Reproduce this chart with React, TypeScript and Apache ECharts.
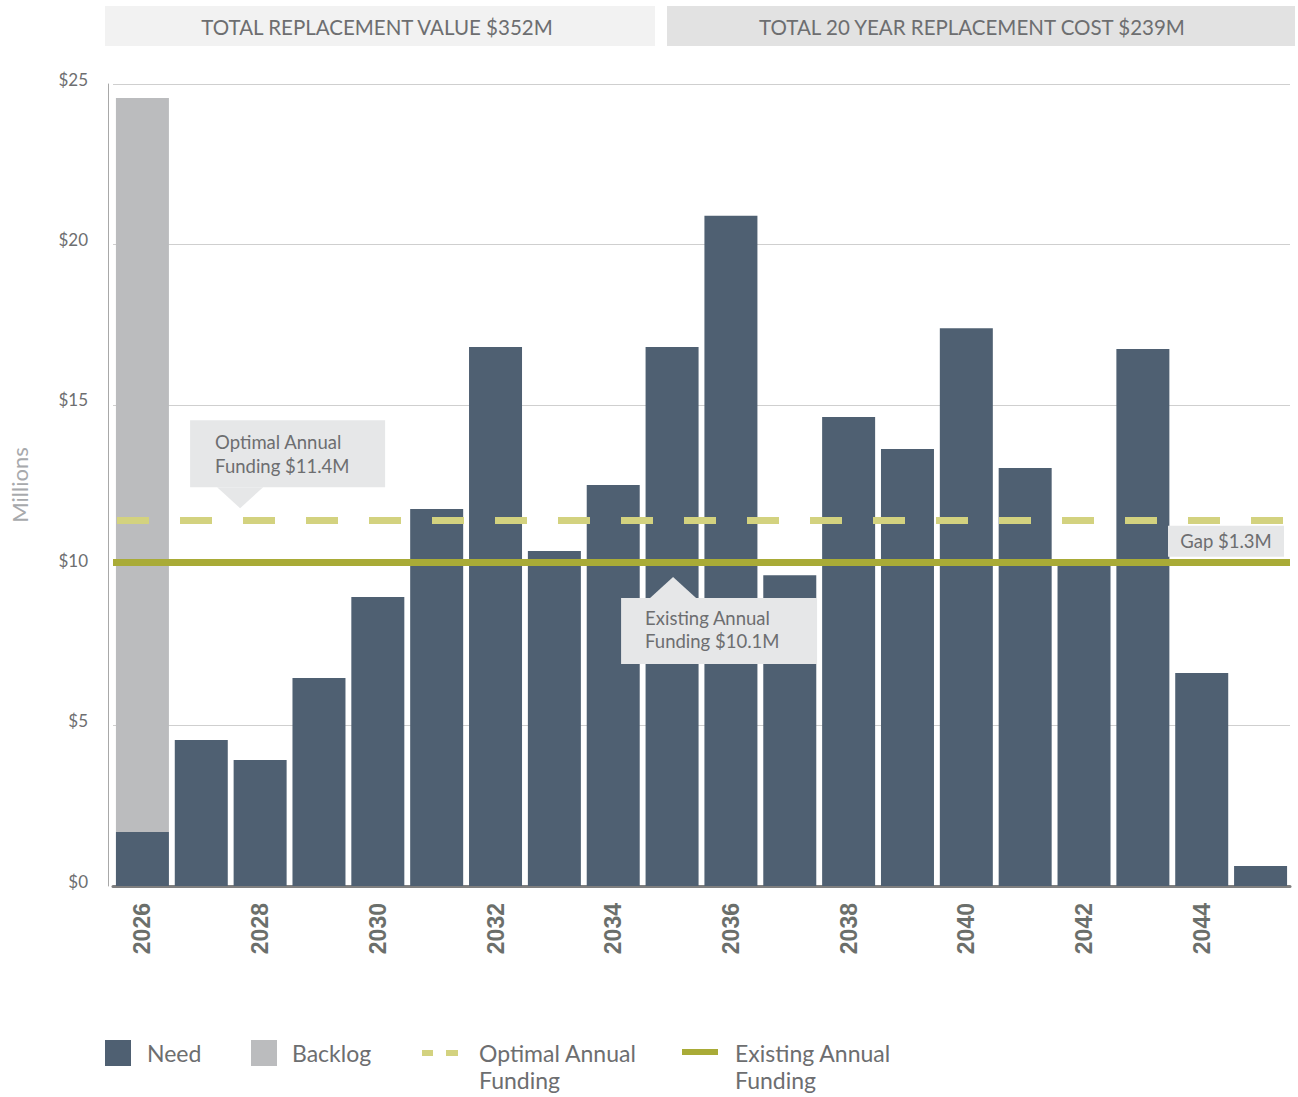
import React, { useEffect, useRef } from "react";
import * as echarts from "echarts";

const years = ["2026","2027","2028","2029","2030","2031","2032","2033","2034","2035","2036","2037","2038","2039","2040","2041","2042","2043","2044","2045"];
const need = [1.68, 4.55, 3.93, 6.48, 9.01, 11.75, 16.8, 10.44, 12.5, 16.8, 20.89, 9.69, 14.62, 13.62, 17.39, 13.03, 10.15, 16.74, 6.64, 0.62];
const backlog = [22.88, 0, 0, 0, 0, 0, 0, 0, 0, 0, 0, 0, 0, 0, 0, 0, 0, 0, 0, 0];
const optimalFunding = 11.4;
const existingFunding = 10.1;
const yTicks = [0, 5, 10, 15, 20, 25];
const headerLeft = "TOTAL REPLACEMENT VALUE $352M";
const headerRight = "TOTAL 20 YEAR REPLACEMENT COST $239M";

const NEED_COLOR = "#4f6072";
const BACKLOG_COLOR = "#bbbcbe";
const OPT_COLOR = "#d3d27f";
const EXIST_COLOR = "#a9ab37";
const TEXT = "#6d6e70";
const BOX = "#e6e7e8";
const FONT = "Lato, 'Open Sans', sans-serif";

export default function App() {
  const ref = useRef<HTMLDivElement>(null);
  useEffect(() => {
    document.body.style.margin = "0";
    const chart = echarts.init(ref.current!, null, { renderer: "svg" });
    chart.setOption({
      animation: false,
      grid: { left: 112, right: 8, top: 84, bottom: 211 },
      xAxis: {
        type: "category",
        data: years,
        axisTick: { show: false },
        axisLine: { lineStyle: { color: "#7f7f7f", width: 3 } },
        axisLabel: {
          interval: 1,
          rotate: 90,
          margin: 17,
          color: "#6b6f6b",
          fontFamily: "'Liberation Sans', Arial, sans-serif",
          fontWeight: "bold",
          fontSize: 23,
        },
      },
      yAxis: {
        type: "value",
        min: yTicks[0],
        max: yTicks[yTicks.length - 1],
        interval: 5,
        offset: 5,
        name: "Millions",
        nameLocation: "middle",
        nameRotate: 90,
        nameGap: 78,
        nameTextStyle: { color: "#a7a9ac", fontSize: 22, fontFamily: FONT },
        axisLine: { show: true, lineStyle: { color: "#a8a8a8", width: 1 } },
        axisTick: { show: false },
        splitLine: { lineStyle: { color: "#cfcfcf", width: 1 } },
        axisLabel: {
          formatter: (v: number) => "$" + v,
          color: TEXT,
          fontSize: 17,
          fontFamily: FONT,
          margin: 20,
          verticalAlign: "bottom",
          lineHeight: 10,
        },
      },
      series: [
        {
          name: "Need",
          type: "bar",
          stack: "total",
          data: need,
          barWidth: 53,
          itemStyle: { color: NEED_COLOR },
          markLine: {
            symbol: "none",
            silent: true,
            label: { show: false },
            data: [
              { yAxis: optimalFunding, lineStyle: { color: OPT_COLOR, width: 7, type: [32, 31], dashOffset: -4 } },
              { yAxis: existingFunding, lineStyle: { color: EXIST_COLOR, width: 7, type: "solid" } },
            ],
          },
          z: 2,
        },
        {
          name: "Backlog",
          type: "bar",
          stack: "total",
          data: backlog,
          barWidth: 53,
          itemStyle: { color: BACKLOG_COLOR },
          z: 2,
        },
      ],
    });

    const px = (i: number, v: number) => chart.convertToPixel({ gridIndex: 0 }, [i, v]) as number[];
    const optY = px(0, optimalFunding)[1];
    const exY = px(0, existingFunding)[1];
    const c1 = px(1, 0)[0];
    const c2 = px(2, 0)[0];
    const optApexX = c1 + (c2 - c1) * 0.66;
    const optApexY = optY - 12;
    const optBoxBottom = optApexY - 21;
    const optBoxTop = optBoxBottom - 67;
    const optBoxLeft = optApexX - 50;

    const exApexX = px(9, 0)[0] + 1;
    const exApexY = exY + 15;
    const exBoxTop = exApexY + 21;
    const exBoxLeft = exApexX - 52;

    const gapCenterY = (optY + exY) / 2;
    const gapRight = 1284;

    const textStyle = (extra: any) => ({ fill: TEXT, fontFamily: FONT, fontSize: 18.5, ...extra });

    const graphic: any[] = [
      // headers
      { type: "rect", shape: { x: 105, y: 6, width: 550, height: 40 }, style: { fill: "#f2f2f2" } },
      { type: "rect", shape: { x: 667, y: 6, width: 628, height: 40 }, style: { fill: "#e2e2e2" } },
      { type: "text", x: 377, y: 27, style: textStyle({ text: headerLeft, fontSize: 20.5, align: "center", verticalAlign: "middle" }) },
      { type: "text", x: 972, y: 27, style: textStyle({ text: headerRight, fontSize: 20.5, align: "center", verticalAlign: "middle" }) },
      // optimal annotation
      { type: "rect", z: 10, shape: { x: optBoxLeft, y: optBoxTop, width: 195, height: 67 }, style: { fill: BOX } },
      { type: "polygon", z: 10, shape: { points: [[optApexX - 23, optBoxBottom], [optApexX + 23, optBoxBottom], [optApexX, optApexY]] }, style: { fill: BOX } },
      { type: "text", z: 11, x: optBoxLeft + 25, y: optBoxTop + 22, style: textStyle({ text: "Optimal Annual", verticalAlign: "middle" }) },
      { type: "text", z: 11, x: optBoxLeft + 25, y: optBoxTop + 46, style: textStyle({ text: "Funding $11.4M", verticalAlign: "middle" }) },
      // existing annotation
      { type: "rect", z: 10, shape: { x: exBoxLeft, y: exBoxTop, width: 196, height: 66 }, style: { fill: BOX } },
      { type: "polygon", z: 10, shape: { points: [[exApexX - 23, exBoxTop], [exApexX + 23, exBoxTop], [exApexX, exApexY]] }, style: { fill: BOX } },
      { type: "text", z: 11, x: exBoxLeft + 24, y: exBoxTop + 20, style: textStyle({ text: "Existing Annual", verticalAlign: "middle" }) },
      { type: "text", z: 11, x: exBoxLeft + 24, y: exBoxTop + 43, style: textStyle({ text: "Funding $10.1M", verticalAlign: "middle" }) },
      // gap
      { type: "rect", z: 10, shape: { x: gapRight - 116, y: gapCenterY - 15.5, width: 116, height: 31 }, style: { fill: BOX } },
      { type: "text", z: 11, x: gapRight - 58, y: gapCenterY, style: textStyle({ text: "Gap $1.3M", align: "center", verticalAlign: "middle" }) },
      // legend
      { type: "rect", shape: { x: 105, y: 1040, width: 26, height: 26 }, style: { fill: NEED_COLOR } },
      { type: "text", x: 147, y: 1053, style: textStyle({ text: "Need", fontSize: 23, verticalAlign: "middle" }) },
      { type: "rect", shape: { x: 251, y: 1040, width: 26, height: 26 }, style: { fill: BACKLOG_COLOR } },
      { type: "text", x: 292, y: 1053, style: textStyle({ text: "Backlog", fontSize: 23, verticalAlign: "middle" }) },
      { type: "rect", shape: { x: 422, y: 1050, width: 11, height: 6 }, style: { fill: OPT_COLOR } },
      { type: "rect", shape: { x: 446, y: 1050, width: 12, height: 6 }, style: { fill: OPT_COLOR } },
      { type: "text", x: 479, y: 1053, style: textStyle({ text: "Optimal Annual", fontSize: 23, verticalAlign: "middle" }) },
      { type: "text", x: 479, y: 1080, style: textStyle({ text: "Funding", fontSize: 23, verticalAlign: "middle" }) },
      { type: "rect", shape: { x: 682, y: 1049, width: 36, height: 6 }, style: { fill: EXIST_COLOR } },
      { type: "text", x: 735, y: 1053, style: textStyle({ text: "Existing Annual", fontSize: 23, verticalAlign: "middle" }) },
      { type: "text", x: 735, y: 1080, style: textStyle({ text: "Funding", fontSize: 23, verticalAlign: "middle" }) },
    ];
    chart.setOption({ graphic });

    return () => chart.dispose();
  }, []);
  return <div ref={ref} style={{ width: 1298, height: 1097 }} />;
}
